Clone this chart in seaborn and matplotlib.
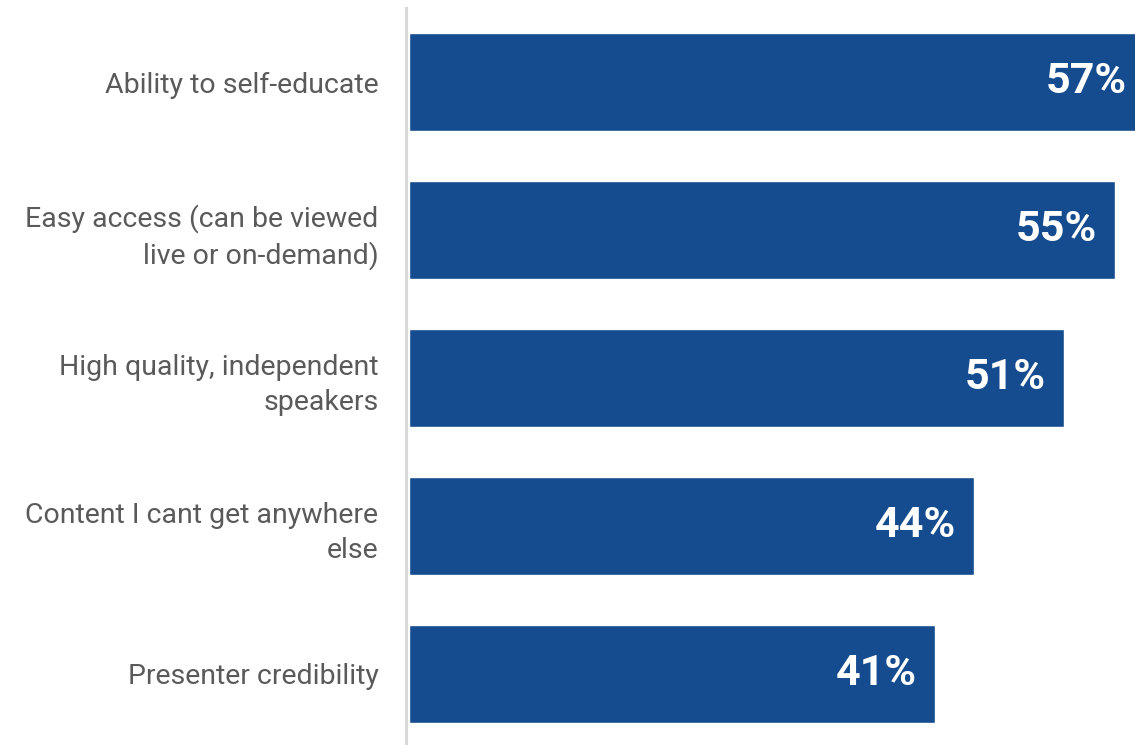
import matplotlib
matplotlib.use("Agg")
import matplotlib.pyplot as plt
import seaborn as sns
import pandas as pd

categories = [
    "Ability to self-educate",
    "Easy access (can be viewed\nlive or on-demand)",
    "High quality, independent\nspeakers",
    "Content I cant get anywhere\nelse",
    "Presenter credibility",
]
values = [57, 55, 51, 44, 41]
value_labels = ["57%", "55%", "51%", "44%", "41%"]

df = pd.DataFrame({"category": categories, "value": values})

sns.set_theme(style="white")
plt.rcParams["font.family"] = ["Roboto", "DejaVu Sans"]

fig = plt.figure(figsize=(11.35, 7.45), dpi=100)
ax = fig.add_axes([409 / 1135, 0.0, 1 - 409 / 1135, 737 / 745])

sns.barplot(data=df, x="value", y="category", orient="h", color="#154C8F",
            saturation=1, width=0.662, ax=ax)

xmax = 56.55
ax.set_xlim(0, xmax)
ax.set_ylim(4.48, -0.5)
ax.set_xlabel("")
ax.set_ylabel("")
ax.set_xticks([])
for s in ["top", "right", "bottom"]:
    ax.spines[s].set_visible(False)
ax.spines["left"].set_color("#D9D9D9")
ax.spines["left"].set_linewidth(2.2)
ax.spines["left"].set_position(("outward", 2))
ax.tick_params(axis="y", length=0, pad=20, labelsize=20.5, labelcolor="#5A5A5A")
for lab in ax.get_yticklabels():
    lab.set_horizontalalignment("right")
    lab.set_linespacing(1.38)

for i, (v, t) in enumerate(zip(values, value_labels)):
    xpos = v - 1.4 if v - 1.4 < xmax - 1.0 else xmax - 0.6
    ax.text(xpos, i, t, ha="right", va="center", color="white",
            fontsize=31, fontweight="bold")

fig.savefig("out.png", dpi=100)
